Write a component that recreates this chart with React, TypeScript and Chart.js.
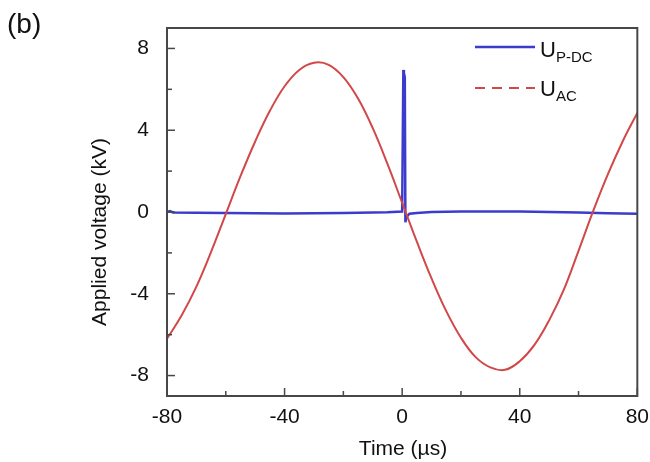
import React, { useEffect, useRef } from "react";
import { Chart, registerables } from "chart.js";

Chart.register(...registerables);

// U_AC (red) — time in µs, voltage in kV
const acTime = [-80, -75, -70, -65, -60, -55, -50, -45, -40, -35, -30, -25, -20, -15, -10, -5, 0, 5, 10, 15, 20, 25, 30, 35, 40, 45, 50, 55, 60, 65, 70, 75, 80];
const acVoltage = [-6.2, -5.05, -3.65, -1.95, -0.1, 1.75, 3.45, 4.95, 6.15, 6.95, 7.3, 7.2, 6.6, 5.55, 4.1, 2.35, 0.45, -1.45, -3.25, -4.85, -6.15, -7.1, -7.6, -7.72, -7.3, -6.5, -5.3, -3.8, -1.9, 0.05, 1.85, 3.45, 4.85];

// U_P-DC (blue)
const dcTime = [-80, -79, -78, -70, -60, -40, -20, -5, 0, 0.2, 0.4, 0.6, 0.9, 1.1, 1.4, 2.5, 5, 10, 20, 40, 60, 70, 80];
const dcVoltage = [0.0, 0.05, -0.02, -0.04, -0.05, -0.07, -0.05, -0.01, 0.02, 0.02, 6.95, 6.8, 6.6, -0.5, -0.25, -0.08, -0.05, 0.0, 0.03, 0.02, -0.03, -0.06, -0.08];

const xTickValues = [-80, -60, -40, -20, 0, 20, 40, 60, 80];
const xTickLabels = [-80, -40, 0, 40, 80];
const yTickValues = [-8, -6, -4, -2, 0, 2, 4, 6, 8];
const yTickLabels = [-8, -4, 0, 4, 8];

const seriesNames = ["P-DC", "AC"];
const xTitle = "Time (µs)";
const yTitle = "Applied voltage (kV)";
const panelLabel = "(b)";

const FONT = "'Liberation Sans', Arial, sans-serif";
const BLUE = "#3b3bcc";
const RED = "#d24848";
const AXIS = "#474747";

const decorPlugin = {
  id: "decor",
  afterDraw(chart: any) {
    const { ctx, chartArea: a, scales } = chart;
    ctx.save();
    // inward ticks
    ctx.strokeStyle = AXIS;
    ctx.lineWidth = 1.5;
    for (const v of xTickValues) {
      const px = scales.x.getPixelForValue(v);
      const len = xTickLabels.includes(v) ? 8 : 5;
      ctx.beginPath();
      ctx.moveTo(px, a.bottom);
      ctx.lineTo(px, a.bottom - len);
      ctx.stroke();
    }
    for (const v of yTickValues) {
      const py = scales.y.getPixelForValue(v);
      const len = yTickLabels.includes(v) ? 8 : 5;
      ctx.beginPath();
      ctx.moveTo(a.left, py);
      ctx.lineTo(a.left + len, py);
      ctx.stroke();
    }
    // frame
    ctx.lineWidth = 2;
    ctx.strokeRect(a.left, a.top, a.right - a.left, a.bottom - a.top);

    // legend
    ctx.lineWidth = 2.5;
    ctx.strokeStyle = BLUE;
    ctx.beginPath();
    ctx.moveTo(475, 47);
    ctx.lineTo(535, 47);
    ctx.stroke();
    ctx.strokeStyle = RED;
    ctx.lineWidth = 2;
    ctx.setLineDash([10, 7]);
    ctx.beginPath();
    ctx.moveTo(475, 88);
    ctx.lineTo(535, 88);
    ctx.stroke();
    ctx.setLineDash([]);

    ctx.fillStyle = "#111";
    ctx.textAlign = "left";
    ctx.textBaseline = "alphabetic";
    const drawSub = (y: number, sub: string) => {
      ctx.font = `22px ${FONT}`;
      ctx.fillText("U", 540, y);
      const w = ctx.measureText("U").width;
      ctx.font = `15px ${FONT}`;
      ctx.fillText(sub, 540 + w, y + 5);
    };
    drawSub(57, seriesNames[0]);
    drawSub(96, seriesNames[1]);

    // axis titles
    ctx.font = `21px ${FONT}`;
    ctx.textAlign = "center";
    ctx.fillText(xTitle, 403, 455);
    ctx.save();
    ctx.translate(100, 232);
    ctx.rotate(-Math.PI / 2);
    ctx.textBaseline = "middle";
    ctx.fillText(yTitle, 0, 0);
    ctx.restore();

    // panel label
    ctx.textAlign = "left";
    ctx.font = `28px ${FONT}`;
    ctx.fillText(panelLabel, 7, 33);
    ctx.restore();
  },
};

export default function App() {
  const ref = useRef<HTMLCanvasElement | null>(null);
  useEffect(() => {
    document.body.style.margin = "0";
    if (!ref.current) return;
    const chart = new Chart(ref.current, {
      type: "line",
      data: {
        datasets: [
          {
            label: "U_AC",
            data: acTime.map((t, i) => ({ x: t, y: acVoltage[i] })),
            borderColor: RED,
            borderWidth: 2,
            pointRadius: 0,
            tension: 0.4,
            fill: false,
          },
          {
            label: "U_P-DC",
            data: dcTime.map((t, i) => ({ x: t, y: dcVoltage[i] })),
            borderColor: BLUE,
            borderWidth: 2.5,
            pointRadius: 0,
            tension: 0,
            fill: false,
          },
        ],
      },
      options: {
        responsive: false,
        animation: false,
        devicePixelRatio: 1,
        layout: { padding: { left: 0, right: 7, top: 28, bottom: 0 } },
        plugins: { legend: { display: false }, tooltip: { enabled: false } },
        scales: {
          x: {
            type: "linear",
            min: -80,
            max: 80,
            afterBuildTicks: (s: any) => {
              s.ticks = xTickValues.map((v) => ({ value: v }));
            },
            afterFit: (s: any) => {
              s.height = 66;
            },
            grid: { display: false },
            border: { display: false },
            ticks: {
              autoSkip: false,
              maxRotation: 0,
              padding: 1,
              color: "#111",
              font: { family: FONT, size: 21 },
              callback: (v: any) => (xTickLabels.includes(Number(v)) ? String(v) : ""),
            },
          },
          y: {
            min: -9,
            max: 9,
            afterBuildTicks: (s: any) => {
              s.ticks = yTickValues.map((v) => ({ value: v }));
            },
            afterFit: (s: any) => {
              s.width = 167;
            },
            grid: { display: false },
            border: { display: false },
            ticks: {
              autoSkip: false,
              padding: 10,
              color: "#111",
              font: { family: FONT, size: 21 },
              callback: (v: any) => (yTickLabels.includes(Number(v)) ? String(v) : ""),
            },
          },
        },
      },
      plugins: [decorPlugin],
    } as any);
    return () => chart.destroy();
  }, []);
  return (
    <div style={{ width: 650, height: 462, background: "#fff" }}>
      <canvas ref={ref} width={650} height={462} />
    </div>
  );
}
